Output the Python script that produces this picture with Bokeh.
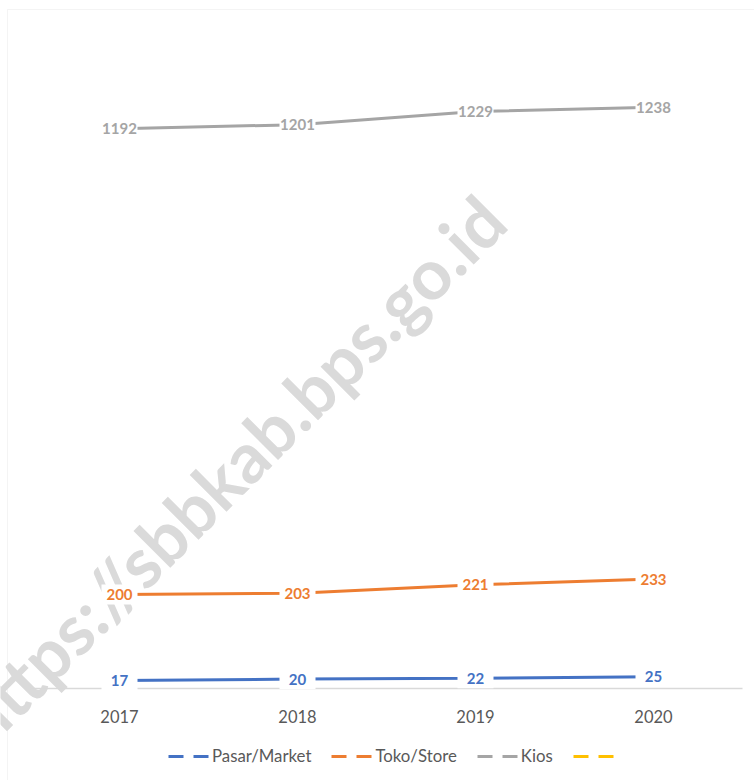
from bokeh.plotting import figure
from bokeh.models import Range1d, Label, Legend, LegendItem, ColumnDataSource, BoxAnnotation
from bokeh.embed import file_html
from bokeh.resources import INLINE
from bokeh.core.properties import value
import math

years = [2017, 2018, 2019, 2020]
year_labels = ["2017", "2018", "2019", "2020"]
pasar = [17, 20, 22, 25]
toko = [200, 203, 221, 233]
kios = [1192, 1201, 1229, 1238]
series_names = ["Pasar/Market", "Toko/Store", "Kios", " "]
series_colors = ["#4472c4", "#ed7d31", "#a5a5a5", "#ffc000"]
series_values = [pasar, toko, kios, None]

FONT = "Lato"
nan = float("nan")

W, H = 754, 780
PX_PER_YEAR = 178.0
PX_PER_UNIT = 0.4695
X0_PX = 119.0      # pixel of first category
Y0_PX = 688.0      # pixel of value 0

x_range = Range1d(years[0] - X0_PX / PX_PER_YEAR, years[0] + (W - X0_PX) / PX_PER_YEAR)
y_range = Range1d(-(H - Y0_PX) / PX_PER_UNIT, Y0_PX / PX_PER_UNIT)

p = figure(x_range=x_range, y_range=y_range, width=W, height=H,
           output_backend="svg", toolbar_location=None,
           x_axis_location=None, y_axis_location=None,
           min_border=0, min_border_left=0, min_border_right=0,
           min_border_top=0, min_border_bottom=0)
p.outline_line_color = None
p.grid.visible = False

# outer chart border (top and left edges visible)
p.add_layout(BoxAnnotation(left=7, right=W + 50, top=9, bottom=H + 50,
                           left_units="canvas", right_units="canvas",
                           top_units="canvas", bottom_units="canvas",
                           fill_color=None, line_color="#d9d9d9", line_width=1))

# watermark
wm = Label(x=230, y=469, x_units="canvas", y_units="canvas",
           text="https://sbbkab.bps.go.id", angle=math.pi / 4,
           text_align="center", text_baseline="middle", text_font=FONT,
           text_font_style="bold", text_font_size="70px", text_color="#dadada",
           level="underlay")
p.add_layout(wm)

# category axis baseline and tick labels
p.segment(x0=[years[0] - 0.5], y0=[0], x1=[years[-1] + 0.5], y1=[0],
          line_color="#d9d9d9", line_width=1.5)
p.text(x=years, y=[0] * len(years), text=year_labels, y_offset=28,
       text_align="center", text_baseline="middle", text_font=value(FONT),
       text_font_size="16.5px", text_color="#595959")

legend_items = []
for name, color, vals in zip(series_names, series_colors, series_values):
    dummy = p.line(x=years, y=[nan] * len(years), line_color=color, line_width=3,
                   line_dash="15 10")
    legend_items.append(LegendItem(label=name, renderers=[dummy]))
    if vals is None:
        continue
    src = ColumnDataSource(dict(x=years, y=vals, t=[str(v) for v in vals]))
    p.line("x", "y", source=src, line_color=color, line_width=3)
    p.rect("x", "y", source=src, width=36, height=20, width_units="screen",
           height_units="screen", fill_color="white", line_color=None)
    p.text("x", "y", text="t", source=src, text_align="center", text_baseline="middle",
           text_font=value(FONT), text_font_style="bold", text_font_size="15px",
           text_color=color)

legend = Legend(items=legend_items, orientation="horizontal", location=(168, 14),
                label_text_font=FONT, label_text_font_size="16.8px",
                label_text_color="#595959", glyph_width=41, glyph_height=20,
                spacing=20, label_standoff=3, border_line_color=None,
                background_fill_alpha=0, padding=0, margin=0)
p.add_layout(legend)

open("out.html", "w").write(file_html(p, INLINE))
